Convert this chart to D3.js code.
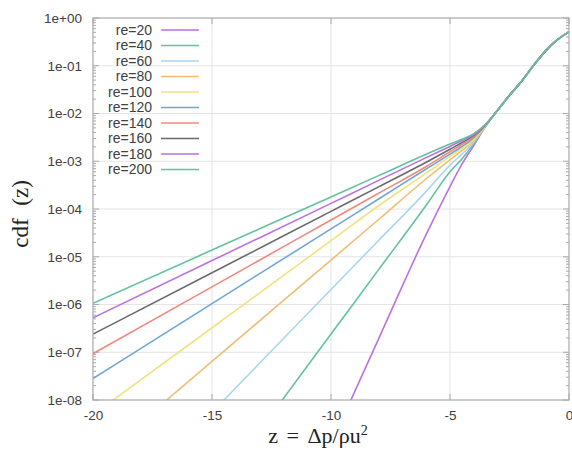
<!DOCTYPE html>
<html>
<head>
<meta charset="utf-8">
<script src="https://cdn.jsdelivr.net/npm/d3@7"></script>
<style>
  body { margin: 0; background: #ffffff; }
  svg { display: block; }
</style>
</head>
<body>
<svg id="chart" width="572" height="452"></svg>
<script>
// z positions of the sampled points (fan part, differs per re)
const zHead = [-20, -15, -10, -8, -6, -5, -4.5, -4, -3.5];
// z positions of the shared upper tail
const zTail = [-3, -2.5, -2, -1.5, -1, -0.5, 0];
// cdf values of the shared tail (all re collapse here)
const cdfTail = [1.17e-2, 2.40e-2, 4.68e-2, 0.100, 0.200, 0.347, 0.513];

// cdf(z) per Reynolds number on zHead
const re20  = [1.26e-20, 3.98e-15, 1.20e-9, 1.91e-7, 2.95e-5, 2.95e-4, 8.71e-4, 2.14e-3, 5.37e-3];
const re40  = [4.37e-14, 1.02e-10, 2.40e-7, 5.37e-6, 1.20e-4, 6.03e-4, 1.12e-3, 2.34e-3, 5.50e-3];
const re60  = [1.48e-11, 5.50e-9, 2.06e-6, 2.19e-5, 2.34e-4, 8.32e-4, 1.41e-3, 2.51e-3, 5.56e-3];
const re80  = [4.79e-10, 6.46e-8, 8.51e-6, 6.03e-5, 4.30e-4, 1.07e-3, 1.66e-3, 2.69e-3, 5.62e-3];
const re100 = [4.90e-9, 3.26e-7, 2.17e-5, 1.17e-4, 5.62e-4, 1.26e-3, 1.86e-3, 2.88e-3, 5.69e-3];
const re120 = [2.82e-8, 1.04e-6, 3.84e-5, 1.62e-4, 6.89e-4, 1.41e-3, 2.04e-3, 3.09e-3, 5.75e-3];
const re140 = [9.33e-8, 2.34e-6, 5.89e-5, 2.14e-4, 7.76e-4, 1.58e-3, 2.24e-3, 3.24e-3, 5.82e-3];
const re160 = [2.40e-7, 4.62e-6, 8.91e-5, 2.91e-4, 9.55e-4, 1.78e-3, 2.45e-3, 3.47e-3, 5.89e-3];
const re180 = [5.25e-7, 8.32e-6, 1.31e-4, 3.98e-4, 1.19e-3, 2.04e-3, 2.69e-3, 3.63e-3, 5.96e-3];
const re200 = [1.06e-6, 1.38e-5, 1.79e-4, 5.00e-4, 1.40e-3, 2.29e-3, 2.88e-3, 3.80e-3, 6.03e-3];

const seriesNames  = ["re=20", "re=40", "re=60", "re=80", "re=100", "re=120", "re=140", "re=160", "re=180", "re=200"];
const seriesValues = [re20, re40, re60, re80, re100, re120, re140, re160, re180, re200];
const seriesColors = ["#b872e2", "#62c19e", "#a9d5ee", "#efbd75", "#f0e27e", "#6fa6d4", "#ef8a7e", "#6a6a6a", "#b872e2", "#62c19e"];

const xTickValues = [-20, -15, -10, -5, 0];
const xTickLabels = ["-20", "-15", "-10", "-5", "0"];
const yTickValues = [1, 1e-1, 1e-2, 1e-3, 1e-4, 1e-5, 1e-6, 1e-7, 1e-8];
const yTickLabels = ["1e+00", "1e-01", "1e-02", "1e-03", "1e-04", "1e-05", "1e-06", "1e-07", "1e-08"];

const plot = { left: 93, right: 569, top: 18, bottom: 400 };
const svg = d3.select("#chart");

const x = d3.scaleLinear().domain([-20, 0]).range([plot.left, plot.right]);
const y = d3.scaleLog().domain([1e-8, 1]).range([plot.bottom, plot.top]);

const tickFont = "'Liberation Sans', Arial, sans-serif";
const textColor = "#404040";
const gridColor = "#e4e4e4";
const frameColor = "#a8a8a8";

// grid
const grid = svg.append("g");
grid.selectAll("line.gx").data(xTickValues.slice(1, -1)).join("line")
  .attr("x1", d => x(d)).attr("x2", d => x(d))
  .attr("y1", plot.top).attr("y2", plot.bottom)
  .attr("stroke", gridColor).attr("stroke-width", 1);
grid.selectAll("line.gy").data(yTickValues.slice(1, -1)).join("line")
  .attr("x1", plot.left).attr("x2", plot.right)
  .attr("y1", d => y(d)).attr("y2", d => y(d))
  .attr("stroke", gridColor).attr("stroke-width", 1);

// axes: labels on the left/bottom, inward ticks on all four sides
const xAxis = d3.axisBottom(x).tickValues(xTickValues)
  .tickFormat((d, i) => xTickLabels[i]).tickSize(0).tickPadding(10);
const gx = svg.append("g").attr("transform", `translate(0,${plot.bottom})`).call(xAxis);
gx.select(".domain").remove();
gx.selectAll("text").attr("font-family", tickFont).attr("font-size", 13.5).attr("fill", textColor);

const yAxis = d3.axisLeft(y).tickValues(yTickValues)
  .tickFormat((d, i) => yTickLabels[i]).tickSize(0).tickPadding(11);
const gy = svg.append("g").attr("transform", `translate(${plot.left},0)`).call(yAxis);
gy.select(".domain").remove();
gy.selectAll("text").attr("font-family", tickFont).attr("font-size", 13.5).attr("fill", textColor);

// minor ticks of the log axis
const minorValues = [];
yTickValues.slice(1).forEach(base => {
  for (let m = 2; m <= 9; m++) minorValues.push(base * m);
});
const ticks = svg.append("g").attr("stroke", frameColor).attr("stroke-width", 1);
ticks.selectAll("line.ml").data(minorValues).join("line")
  .attr("x1", plot.left).attr("x2", plot.left + 3)
  .attr("y1", d => y(d)).attr("y2", d => y(d));
ticks.selectAll("line.mr").data(minorValues).join("line")
  .attr("x1", plot.right).attr("x2", plot.right - 3)
  .attr("y1", d => y(d)).attr("y2", d => y(d));
ticks.selectAll("line.jl").data(yTickValues).join("line")
  .attr("x1", plot.left).attr("x2", plot.left + 6)
  .attr("y1", d => y(d)).attr("y2", d => y(d));
ticks.selectAll("line.jr").data(yTickValues).join("line")
  .attr("x1", plot.right).attr("x2", plot.right - 6)
  .attr("y1", d => y(d)).attr("y2", d => y(d));
ticks.selectAll("line.jb").data(xTickValues).join("line")
  .attr("x1", d => x(d)).attr("x2", d => x(d))
  .attr("y1", plot.bottom).attr("y2", plot.bottom - 6);
ticks.selectAll("line.jt").data(xTickValues).join("line")
  .attr("x1", d => x(d)).attr("x2", d => x(d))
  .attr("y1", plot.top).attr("y2", plot.top + 6);

// curves
svg.append("clipPath").attr("id", "plot-clip").append("rect")
  .attr("x", plot.left).attr("y", plot.top)
  .attr("width", plot.right - plot.left).attr("height", plot.bottom - plot.top);

const line = d3.line()
  .x(d => x(d[0])).y(d => y(d[1]))
  .curve(d3.curveMonotoneX);

const zAll = zHead.concat(zTail);
const curves = svg.append("g").attr("clip-path", "url(#plot-clip)");
seriesValues.forEach((vals, i) => {
  const pts = zAll.map((z, j) => [z, j < vals.length ? vals[j] : cdfTail[j - vals.length]]);
  curves.append("path")
    .datum(pts)
    .attr("d", line)
    .attr("fill", "none")
    .attr("stroke", seriesColors[i])
    .attr("stroke-width", 1.6)
    .attr("stroke-linejoin", "round");
});

// frame
svg.append("rect")
  .attr("x", plot.left).attr("y", plot.top)
  .attr("width", plot.right - plot.left).attr("height", plot.bottom - plot.top)
  .attr("fill", "none").attr("stroke", frameColor).attr("stroke-width", 1.2);

// legend
const legend = svg.append("g");
seriesNames.forEach((name, i) => {
  const ly = 30 + i * 15.5;
  legend.append("text")
    .attr("x", 152).attr("y", ly).attr("dy", "0.35em")
    .attr("text-anchor", "end")
    .attr("font-family", tickFont).attr("font-size", 14).attr("fill", textColor)
    .text(name);
  legend.append("line")
    .attr("x1", 161).attr("x2", 199).attr("y1", ly).attr("y2", ly)
    .attr("stroke", seriesColors[i]).attr("stroke-width", 1.6);
});

// axis titles
const serif = "'Liberation Serif', 'Times New Roman', serif";
svg.append("text")
  .attr("transform", "translate(28,214) rotate(-90)")
  .attr("text-anchor", "middle")
  .attr("font-family", serif).attr("font-size", 23).attr("fill", "#222")
  .attr("word-spacing", 7)
  .text("cdf (z)");

const xt = svg.append("text")
  .attr("x", 318).attr("y", 443)
  .attr("text-anchor", "middle")
  .attr("font-family", serif).attr("font-size", 22).attr("fill", "#222")
  .attr("word-spacing", 3);
xt.append("tspan").text("z = Δp/ρu");
xt.append("tspan").attr("dy", -8).attr("font-size", 14).text("2");
</script>
</body>
</html>
